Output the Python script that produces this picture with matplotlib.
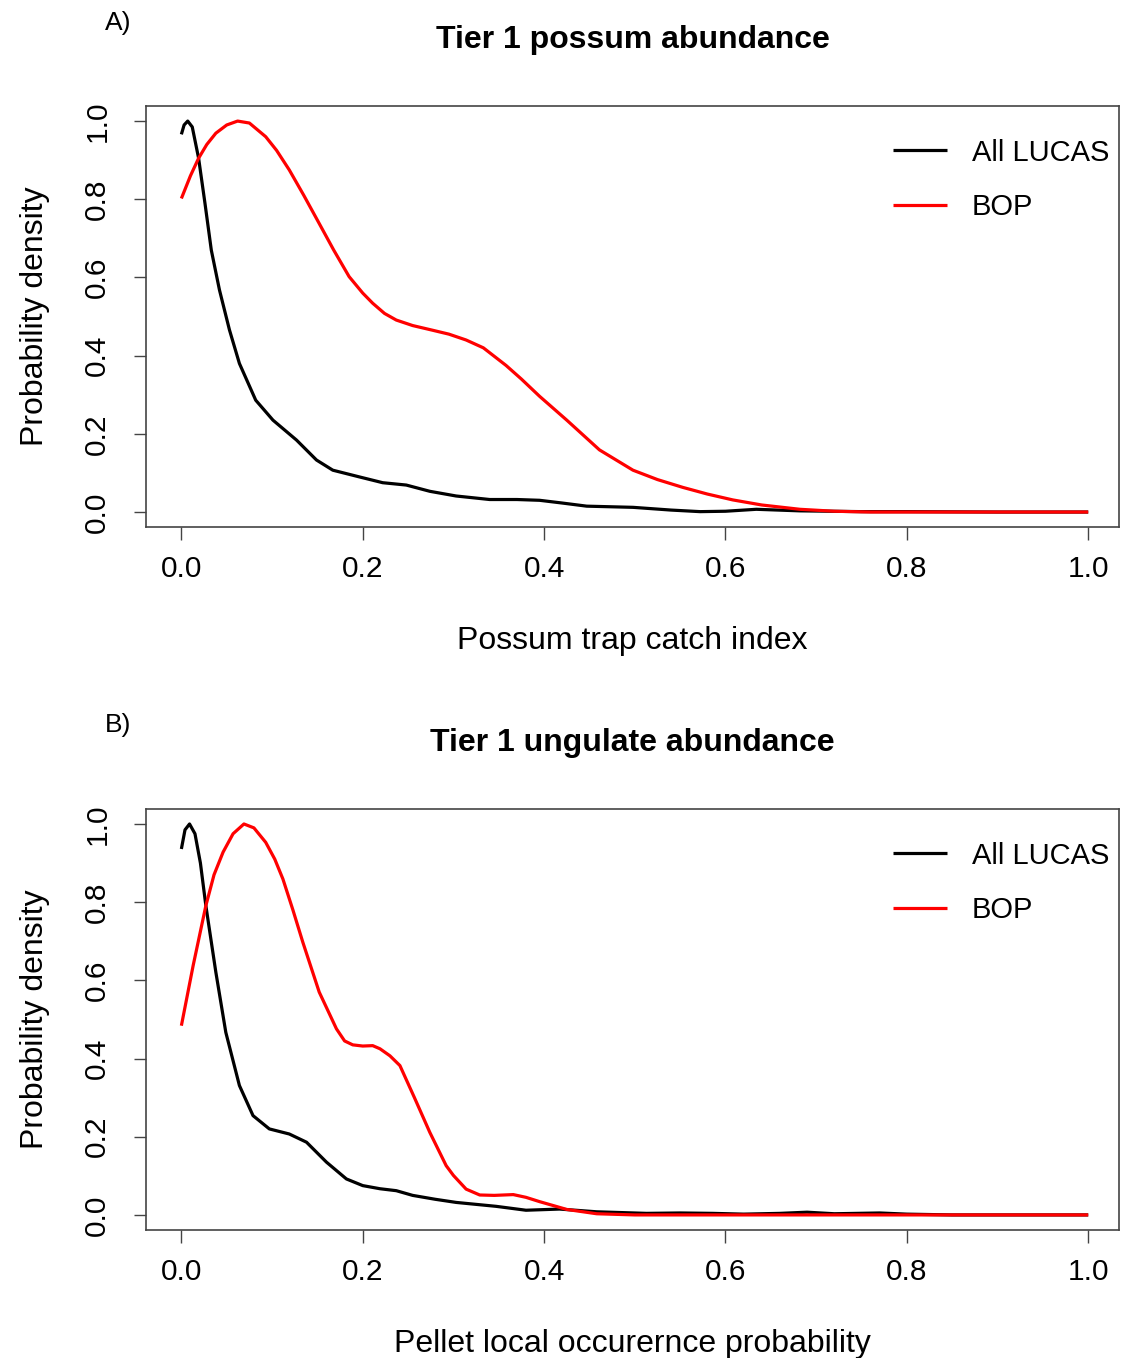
import numpy as np
import matplotlib
matplotlib.use("Agg")
import matplotlib.pyplot as plt

plt.rcParams['font.family'] = ['Liberation Sans', 'DejaVu Sans']

# panel A: possum trap catch index, scaled densities
possum_x_all = [0.000, 0.003, 0.007, 0.012, 0.019, 0.026, 0.033, 0.042, 0.053, 0.064,
                0.082, 0.101, 0.127, 0.149, 0.167, 0.196, 0.222, 0.248, 0.274, 0.303,
                0.340, 0.370, 0.395, 0.420, 0.447, 0.498, 0.540, 0.572, 0.600, 0.634,
                0.682, 0.750, 0.800, 0.900, 1.000]
possum_y_all = [0.966, 0.990, 1.000, 0.985, 0.905, 0.790, 0.670, 0.568, 0.466, 0.380,
                0.286, 0.235, 0.184, 0.133, 0.107, 0.090, 0.075, 0.069, 0.053, 0.041,
                0.032, 0.032, 0.030, 0.023, 0.015, 0.012, 0.005, 0.001, 0.002, 0.007,
                0.003, 0.001, 0.001, 0.000, 0.000]
possum_x_bop = [0.000, 0.010, 0.019, 0.028, 0.038, 0.050, 0.062, 0.075, 0.093, 0.105,
                0.119, 0.135, 0.152, 0.168, 0.185, 0.200, 0.211, 0.224, 0.237, 0.255,
                0.277, 0.295, 0.314, 0.333, 0.358, 0.375, 0.395, 0.425, 0.461, 0.498,
                0.525, 0.553, 0.580, 0.608, 0.640, 0.682, 0.720, 0.760, 0.850, 1.000]
possum_y_bop = [0.802, 0.860, 0.905, 0.940, 0.969, 0.990, 1.000, 0.995, 0.960, 0.925,
                0.875, 0.810, 0.738, 0.670, 0.602, 0.560, 0.534, 0.508, 0.491, 0.477,
                0.465, 0.455, 0.440, 0.420, 0.375, 0.340, 0.296, 0.235, 0.159, 0.107,
                0.083, 0.063, 0.046, 0.031, 0.018, 0.007, 0.002, 0.000, 0.000, 0.000]

# panel B: pellet local occurrence probability
pellet_x_all = [0.000, 0.004, 0.009, 0.015, 0.021, 0.027, 0.038, 0.049, 0.064, 0.079,
                0.097, 0.119, 0.138, 0.160, 0.182, 0.200, 0.219, 0.237, 0.255, 0.280,
                0.303, 0.347, 0.380, 0.417, 0.458, 0.513, 0.550, 0.586, 0.620, 0.660,
                0.690, 0.720, 0.770, 0.800, 0.850, 1.000]
pellet_y_all = [0.936, 0.985, 1.000, 0.975, 0.900, 0.791, 0.621, 0.467, 0.331, 0.254,
                0.220, 0.207, 0.186, 0.135, 0.092, 0.075, 0.067, 0.062, 0.050, 0.040,
                0.032, 0.022, 0.012, 0.015, 0.008, 0.004, 0.005, 0.004, 0.002, 0.004,
                0.007, 0.003, 0.005, 0.002, 0.000, 0.000]
pellet_x_bop = [0.000, 0.013, 0.027, 0.036, 0.046, 0.057, 0.069, 0.080, 0.093, 0.103,
                0.112, 0.123, 0.134, 0.152, 0.171, 0.180, 0.189, 0.200, 0.211, 0.219,
                0.230, 0.241, 0.257, 0.274, 0.292, 0.300, 0.314, 0.329, 0.345, 0.366,
                0.380, 0.395, 0.425, 0.458, 0.500, 1.000]
pellet_y_bop = [0.484, 0.638, 0.791, 0.870, 0.928, 0.975, 1.000, 0.990, 0.953, 0.910,
                0.859, 0.780, 0.697, 0.570, 0.476, 0.445, 0.435, 0.432, 0.433, 0.425,
                0.407, 0.382, 0.300, 0.211, 0.126, 0.101, 0.066, 0.051, 0.050, 0.052,
                0.045, 0.034, 0.014, 0.003, 0.000, 0.000]

ticks = [0.0, 0.2, 0.4, 0.6, 0.8, 1.0]
tick_labels = ['0.0', '0.2', '0.4', '0.6', '0.8', '1.0']

fig = plt.figure(figsize=(11.24, 13.58), dpi=100)

panels = [
    (0.6119, 'A)', 'Tier 1 possum abundance', 'Possum trap catch index',
     possum_x_all, possum_y_all, possum_x_bop, possum_y_bop),
    (0.0943, 'B)', 'Tier 1 ungulate abundance', 'Pellet local occurernce probability',
     pellet_x_all, pellet_y_all, pellet_x_bop, pellet_y_bop),
]

for bottom, tag, title, xlab, xa, ya, xb, yb in panels:
    ax = fig.add_axes([0.1299, bottom, 0.8657, 0.3100])
    ax.plot(xa, ya, color='black', lw=2.3, label='All LUCAS',
            solid_capstyle='butt', solid_joinstyle='round')
    ax.plot(xb, yb, color='red', lw=2.3, label='BOP',
            solid_capstyle='butt', solid_joinstyle='round')
    ax.set_xlim(-0.039, 1.034)
    ax.set_ylim(-0.0384, 1.0384)
    ax.set_xticks(ticks)
    ax.set_xticklabels(tick_labels)
    ax.set_yticks(ticks)
    ax.set_yticklabels(tick_labels, rotation=90, va='center')
    ax.tick_params(axis='both', labelsize=21.5, length=9, width=1, color='#444444')
    ax.tick_params(axis='x', pad=11)
    ax.tick_params(axis='y', pad=16)
    for s in ax.spines.values():
        s.set_color('#444444')
        s.set_linewidth(1.2)
    ax.set_xlabel(xlab, fontsize=23, labelpad=31)
    ax.set_ylabel('Probability density', fontsize=23, labelpad=24)
    ax.set_title(title, fontsize=23, fontweight='bold', pad=42)
    ax.legend(loc='upper right', bbox_to_anchor=(1.017, 0.985), frameon=False, fontsize=21,
              handlelength=1.86, handletextpad=0.86, labelspacing=0.9)
    fig.text(0.105, bottom + 0.3100 + 0.0615, tag, fontsize=19, ha='center', va='center')

fig.savefig('out.png', dpi=100)
